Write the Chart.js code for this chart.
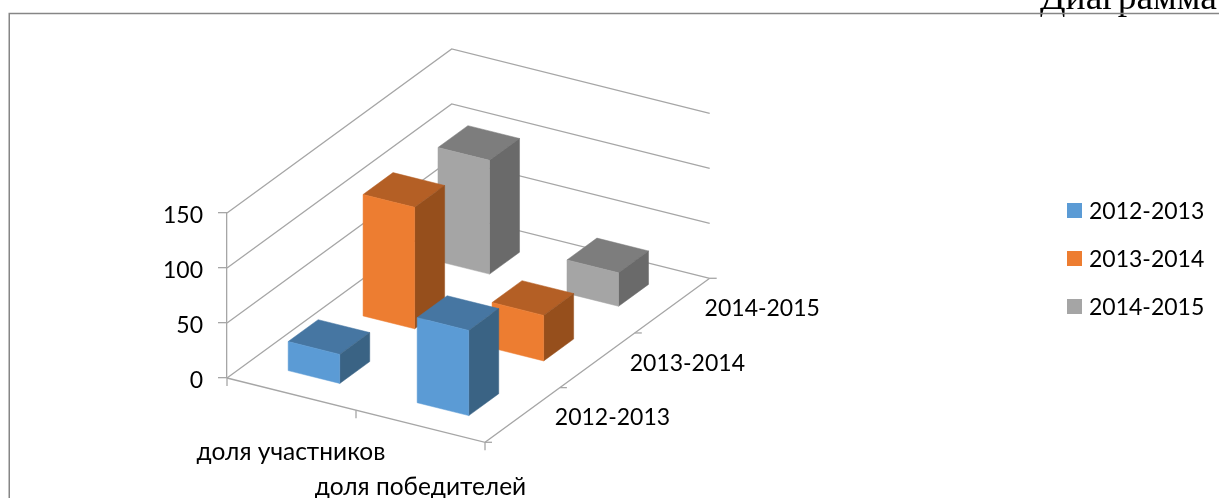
<!DOCTYPE html>
<html>
<head>
<meta charset="utf-8">
<style>html,body{margin:0;padding:0;background:#fff;overflow:hidden}canvas{display:block}</style>
<script src="https://cdn.jsdelivr.net/npm/chart.js@4"></script>
</head>
<body>
<canvas id="c" width="1219" height="498"></canvas>
<script>
const categories = ['доля участников', 'доля победителей'];
const seriesLabels = ['2012-2013', '2013-2014', '2014-2015'];
const values2012 = [27, 78];
const values2013 = [111, 42];
const values2014 = [104, 31];
const valueTicks = [0, 50, 100, 150];
const chartTitle = 'Диаграмма';

const frontColors = ['#5B9BD5', '#ED7D31', '#A5A5A5'];
const topColors = ['#4676A2', '#B45F25', '#7D7D7D'];
const sideColors = ['#3A6384', '#964F1C', '#6A6A6A'];
const lineColor = '#A6A6A6';
const textColor = '#000';
const labelFont = '23px Lato';
const depthStep = {x: 74.9, y: -54.67};
const slope = 0.2492;

const plugin3d = {
  id: 'box3d',
  beforeDatasetsDraw(chart) {
    const ctx = chart.ctx, a = chart.chartArea, ys = chart.scales.y;
    const P = (x, y, d) => [x + d * depthStep.x, y + (x - a.left) * slope + d * depthStep.y];
    const line = pts => {
      ctx.beginPath();
      pts.forEach((p, i) => i ? ctx.lineTo(p[0], p[1]) : ctx.moveTo(p[0], p[1]));
      ctx.stroke();
    };
    const face = (pts, col) => {
      ctx.beginPath();
      pts.forEach((p, i) => i ? ctx.lineTo(p[0], p[1]) : ctx.moveTo(p[0], p[1]));
      ctx.closePath();
      ctx.fillStyle = col; ctx.fill();
      ctx.strokeStyle = col; ctx.lineWidth = 0.5; ctx.stroke();
    };
    const n = seriesLabels.length, mid = (a.left + a.right) / 2;

    ctx.save();
    // title, then frame over its lower edge
    ctx.fillStyle = '#000';
    ctx.font = '37.5px "Liberation Serif"';
    ctx.textAlign = 'left'; ctx.textBaseline = 'alphabetic';
    ctx.fillText(chartTitle, 1040, 9);
    ctx.strokeStyle = '#868686'; ctx.lineWidth = 1.5;
    line([[9.25, 498], [9.25, 13.5], [1219, 13.5]]);

    // walls and floor
    ctx.strokeStyle = lineColor; ctx.lineWidth = 1.3;
    valueTicks.forEach(v => {
      const y = ys.getPixelForValue(v);
      line([P(a.left, y, 0), P(a.left, y, n), P(a.right, y, n)]);
    });
    line([P(a.left, a.bottom, 0), P(a.right, a.bottom, 0), P(a.right, a.bottom, n)]);
    [a.left, mid, a.right].forEach(x => {
      const p = P(x, a.bottom, 0);
      line([p, [p[0], p[1] + 8]]);
    });
    for (let d = 0; d <= n; d++) {
      const p = P(a.right, a.bottom, d);
      line([p, [p[0] + 7, p[1]]]);
    }

    // bars, back to front
    for (let i = n - 1; i >= 0; i--) {
      const els = chart.getDatasetMeta(i).data;
      els.forEach(el => {
        const l = el.x - el.width / 2, r = el.x + el.width / 2, t = el.y, b = el.base;
        const d0 = i + 0.3, d1 = i + 0.7;
        face([P(l, t, d0), P(r, t, d0), P(r, t, d1), P(l, t, d1)], topColors[i]);
        face([P(r, t, d0), P(r, t, d1), P(r, b, d1), P(r, b, d0)], sideColors[i]);
        face([P(l, t, d0), P(r, t, d0), P(r, b, d0), P(l, b, d0)], frontColors[i]);
      });
    }

    // axis labels
    ctx.fillStyle = textColor; ctx.font = '24.5px Lato';
    ctx.textAlign = 'center'; ctx.textBaseline = 'middle';
    const catPos = [[291, 452], [420.5, 487]];
    categories.forEach((c, i) => ctx.fillText(c, catPos[i][0], catPos[i][1]));
    ctx.font = labelFont;
    seriesLabels.forEach((s, i) => {
      const p = P(a.right, a.bottom, i + 0.5);
      ctx.fillText(s, p[0] + 90, p[1] + 3);
    });

    // legend
    ctx.textAlign = 'left';
    chart.data.datasets.forEach((ds, i) => {
      const y = 210.5 + i * 48;
      ctx.fillStyle = ds.backgroundColor;
      ctx.fillRect(1067, y - 7.5, 15, 15);
      ctx.fillStyle = textColor;
      ctx.fillText(ds.label, 1089, y + 1);
    });
    ctx.restore();
    return false;
  }
};

new Chart(document.getElementById('c'), {
  type: 'bar',
  data: {
    labels: categories,
    datasets: [
      {label: seriesLabels[0], data: values2012, backgroundColor: frontColors[0]},
      {label: seriesLabels[1], data: values2013, backgroundColor: frontColors[1]},
      {label: seriesLabels[2], data: values2014, backgroundColor: frontColors[2]}
    ]
  },
  plugins: [plugin3d],
  options: {
    responsive: false,
    animation: false,
    layout: {padding: {left: 0, top: 213, right: 734, bottom: 120}},
    datasets: {bar: {grouped: false, categoryPercentage: 0.4, barPercentage: 1}},
    plugins: {legend: {display: false}, title: {display: false}, tooltip: {enabled: false}},
    scales: {
      x: {type: 'category', display: false, offset: true},
      y: {
        min: 0, max: 150,
        afterFit(s) { s.width = 227; },
        afterBuildTicks(s) { s.ticks = valueTicks.map(v => ({value: v})); },
        grid: {drawOnChartArea: false, drawTicks: true, tickLength: 9, color: lineColor, lineWidth: 1.3},
        border: {display: true, color: lineColor, width: 1.3},
        ticks: {padding: 15, labelOffset: 3, color: textColor, font: {family: 'Lato', size: 23}}
      }
    }
  }
});
</script>
</body>
</html>
